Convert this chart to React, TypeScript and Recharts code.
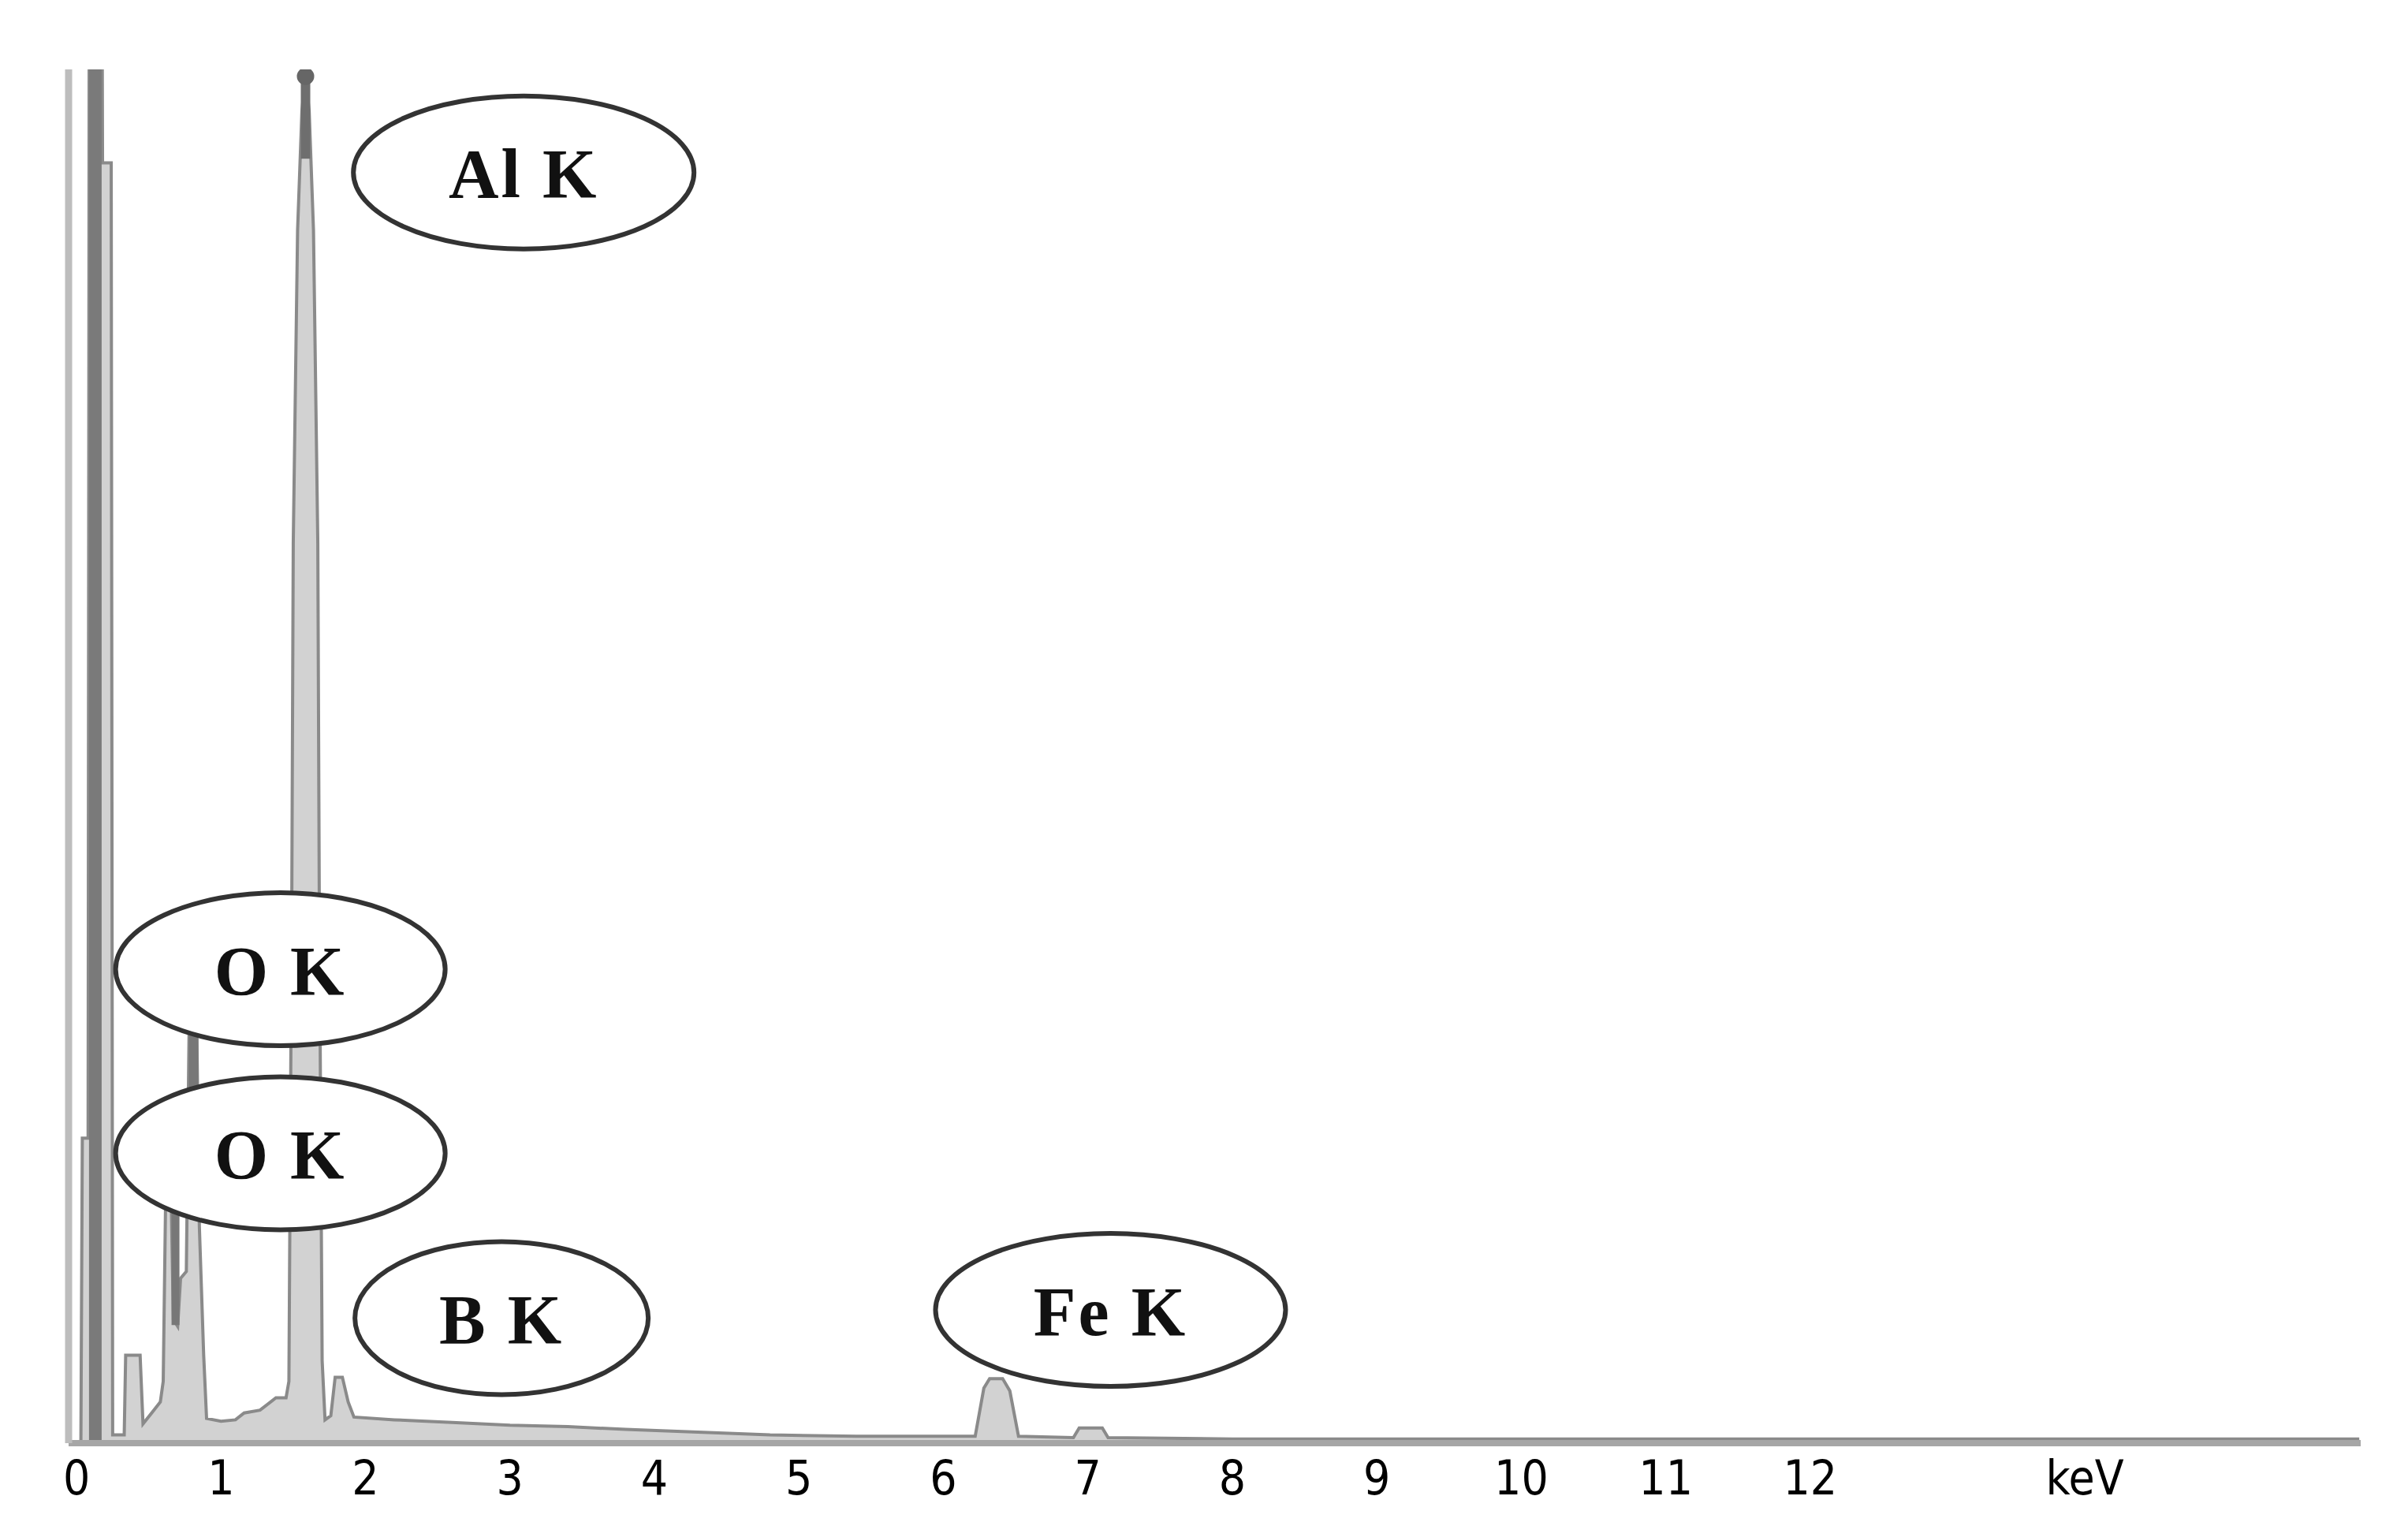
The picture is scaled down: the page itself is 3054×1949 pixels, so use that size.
import {
  Area,
  ComposedChart,
  Line,
  ReferenceDot,
  Scatter,
  XAxis,
  YAxis,
} from "recharts";

// energy (keV) / counts (arbitrary, axis top = 1000)
const energy = [
  -0.05, 0.03, 0.04, 0.08, 0.09, 0.17, 0.18, 0.24, 0.25, 0.33, 0.34, 0.44,
  0.46, 0.52, 0.58, 0.6, 0.62, 0.65, 0.67, 0.7, 0.72, 0.76, 0.78, 0.83, 0.85,
  0.88, 0.9, 1.0, 1.1, 1.16, 1.27, 1.38, 1.45, 1.47, 1.49, 1.5, 1.53, 1.56,
  1.585, 1.61, 1.64, 1.67, 1.68, 1.7, 1.72, 1.76, 1.79, 1.84, 1.88, 1.92, 2.2,
  2.6, 3.0, 3.4, 3.8, 4.3, 4.8, 5.4, 6.0, 6.22, 6.28, 6.32, 6.41, 6.46, 6.52,
  6.9, 6.94, 7.1, 7.14, 8, 10, 12, 15.8,
];
const counts = [
  0, 0, 222, 222, 1300, 1300, 932, 932, 6, 6, 64, 64, 14, 22, 30, 45, 205, 210,
  90, 85, 120, 125, 310, 320, 158, 64, 18, 16, 17, 22, 24, 33, 33, 45, 400,
  655, 883, 970, 995, 970, 883, 655, 400, 60, 17, 20, 48, 48, 30, 19, 17, 15,
  13, 12, 10, 8, 6, 5, 5, 5, 40, 47, 47, 38, 5, 4, 11, 11, 4, 3, 3, 3, 3,
];

// darker overlay trace (second spectrum, only visible at the peaks)
const zeroCore = [
  { e: 0.13, c: 0 },
  { e: 0.13, c: 1300 },
];
const alTop = [
  { e: 1.585, c: 935 },
  { e: 1.585, c: 995 },
];
const oDark = [
  { e: 0.81, c: 255 },
  { e: 0.81, c: 325 },
];
const oDrop = [
  { e: 0.685, c: 86 },
  { e: 0.685, c: 200 },
];
const alMarker = [{ e: 1.585, c: 995 }];

// tick values and their labels
const tickValues = [0, 1, 2, 3, 4, 5, 6, 7, 8, 9, 10, 11, 12, 13.9];
const tickLabels = ["0", "1", "2", "3", "4", "5", "6", "7", "8", "9", "10", "11", "12", "keV"];

// peak labels (ellipse centres in data units)
const peakNames = ["Al K", "O K", "O K", "B K", "Fe K"];
const peakX = [3.095, 1.411, 1.411, 2.942, 7.157];
const peakY = [925, 345, 211, 91, 97];
const peakRx = [216, 209, 209, 186, 222];

const data = energy.map((e, i) => ({ e, c: counts[i] }));

const TickLabel = (props: any) => {
  const { x, y, payload } = props;
  const idx = tickValues.indexOf(payload.value);
  return (
    <text
      x={x}
      y={y + 36}
      textAnchor="middle"
      dominantBaseline="central"
      fill="#000"
      fontSize={60}
      fontFamily="'Liberation Sans Narrow', 'DejaVu Sans Condensed', sans-serif"
    >
      {tickLabels[idx]}
    </text>
  );
};

const ellipseLabel = (name: string, rx: number) => (props: any) => {
  const { cx, cy } = props;
  return (
    <g>
      <ellipse
        cx={cx}
        cy={cy}
        rx={rx}
        ry={97}
        fill="#fff"
        stroke="#333"
        strokeWidth={6}
      />
      <text
        x={cx}
        y={cy + 2}
        textAnchor="middle"
        dominantBaseline="central"
        fontFamily="'Liberation Serif', 'Times New Roman', serif"
        fontWeight="bold"
        fontSize={88}
        letterSpacing={3}
        fill="#111"
      >
        {name}
      </text>
    </g>
  );
};

export default function App() {
  return (
    <div style={{ width: 3038, height: 1933, background: "#fff" }}>
      <ComposedChart
        width={3038}
        height={1933}
        data={data}
        margin={{ top: 80, right: 52, left: 69, bottom: 11 }}
      >
        <XAxis
          dataKey="e"
          type="number"
          domain={[-0.055, 15.81]}
          ticks={tickValues}
          interval={0}
          height={100}
          axisLine={{ stroke: "#a6a6a6", strokeWidth: 8 }}
          tickLine={false}
          tick={<TickLabel />}
          allowDataOverflow
        />
        <YAxis
          type="number"
          domain={[0, 1000]}
          width={10}
          tick={false}
          tickLine={false}
          axisLine={{ stroke: "#bdbdbd", strokeWidth: 9 }}
          allowDataOverflow
        />
        <Area
          dataKey="c"
          type="linear"
          stroke="#8a8a8a"
          strokeWidth={4}
          fill="#d2d2d2"
          fillOpacity={1}
          isAnimationActive={false}
          dot={false}
          activeDot={false}
        />
        <Line data={zeroCore} dataKey="c" stroke="#7a7a7a" strokeWidth={16} dot={false} isAnimationActive={false} />
        <Line data={alTop} dataKey="c" stroke="#6e6e6e" strokeWidth={12} dot={false} isAnimationActive={false} />
        <Line data={oDark} dataKey="c" stroke="#777" strokeWidth={12} dot={false} isAnimationActive={false} />
        <Line data={oDrop} dataKey="c" stroke="#777" strokeWidth={10} dot={false} isAnimationActive={false} />
        <Scatter
          data={alMarker}
          dataKey="c"
          isAnimationActive={false}
          shape={(p: any) => <circle cx={p.cx} cy={p.cy} r={11} fill="#666" />}
        />
        {peakNames.map((name, i) => (
          <ReferenceDot
            key={i}
            x={peakX[i]}
            y={peakY[i]}
            r={1}
            ifOverflow="visible"
            shape={ellipseLabel(name, peakRx[i])}
          />
        ))}
      </ComposedChart>
    </div>
  );
}
